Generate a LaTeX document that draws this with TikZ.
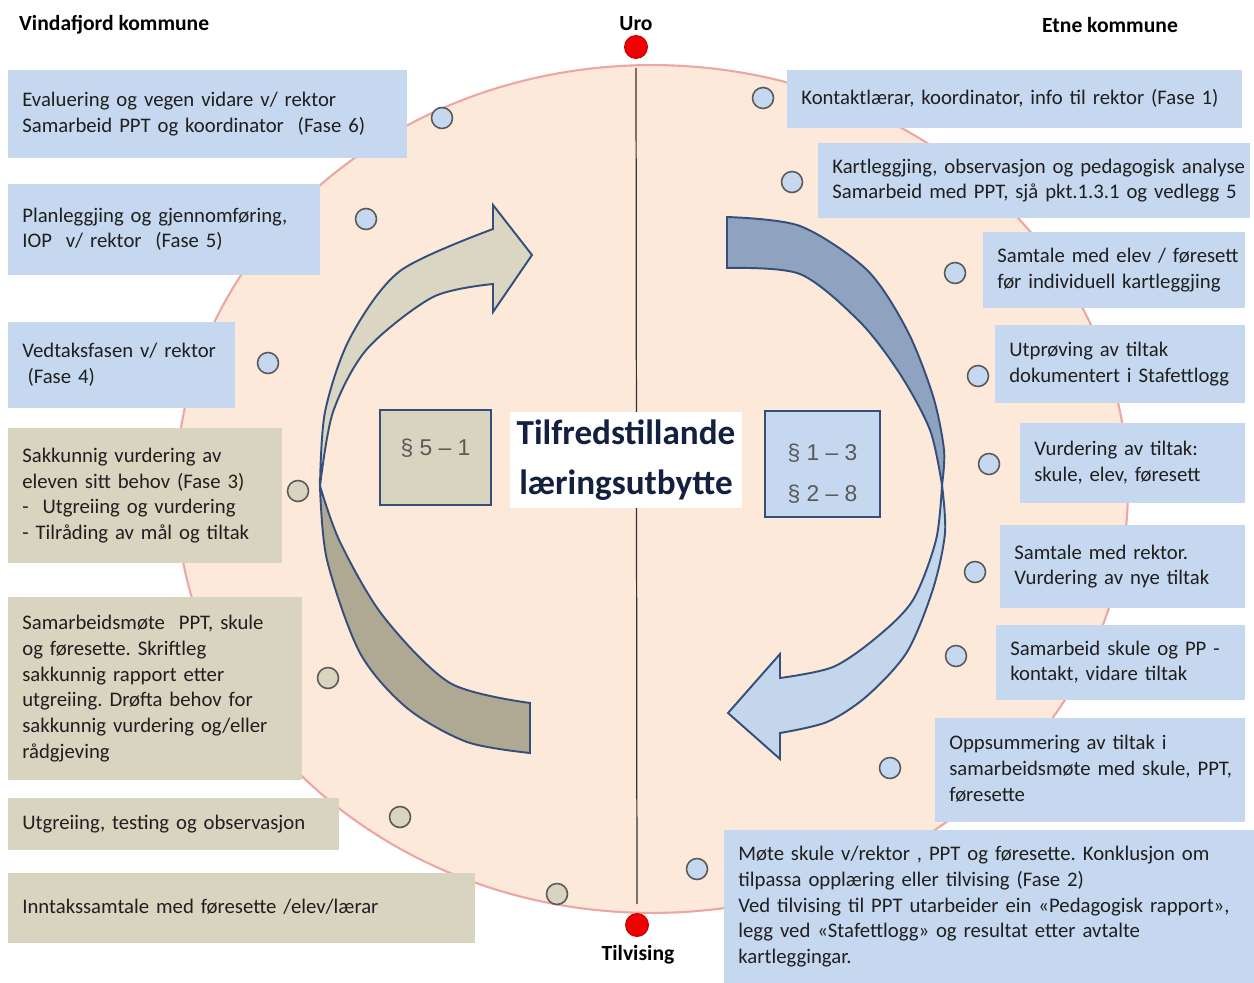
\documentclass[tikz,border=0pt]{standalone}
\usepackage{fontspec}
\setmainfont{Carlito}
\newfontfamily\paragraffont{Liberation Sans}
\usepackage{tikz}
\usetikzlibrary{positioning}
\usetikzlibrary{calc}
\frenchspacing

\definecolor{boksblaa}{HTML}{C6D8EF}
\definecolor{boksbeige}{HTML}{D8D4C0}
\definecolor{sirkelfyll}{HTML}{FDE9DA}
\definecolor{sirkelkant}{HTML}{ECA7A4}
\definecolor{pilkant}{HTML}{34507A}
\definecolor{pilbeige}{HTML}{DAD6C3}
\definecolor{pilbeigemork}{HTML}{AFA994}
\definecolor{pilblaa}{HTML}{C4D6EC}
\definecolor{pilblaamork}{HTML}{8FA3C1}
\definecolor{tekst}{HTML}{1F1F1F}
\definecolor{tittel}{HTML}{13203F}
\definecolor{prikkraud}{HTML}{F00000}

\newcommand{\linjer}[1]{\begin{tabular}{@{}l@{}}#1\end{tabular}}

\begin{document}
\begin{tikzpicture}[x=0.02cm, y=-0.02cm,
    font=\fontsize{11.8}{14.74}\selectfont,
    boks/.style n args={3}{fill=#3, anchor=north west, inner xsep=0.28cm, inner ysep=0pt,
        minimum width=#1*0.02cm, minimum height=#2*0.02cm, text width=#1*0.02cm-0.56cm,
        align=left, text=tekst},
    markor/.style={circle, draw=black!65, line width=0.9pt, minimum size=0.42cm, inner sep=0pt},
    raudprikk/.style={circle, fill=prikkraud, draw=red!75!black, line width=0.5pt, minimum size=0.46cm, inner sep=0pt},
    paragraf/.style={draw=pilkant, line width=1.2pt, inner sep=0pt, align=center, text=black!65,
        font=\paragraffont\fontsize{13}{23.2}\selectfont},
    pil/.style={draw=pilkant, line width=1.1pt},
    overskrift/.style={font=\fontsize{12.3}{14.74}\selectfont\bfseries, text=black}]

    \useasboundingbox (0,0) rectangle (1254,983);
    \fill[white] (0,0) rectangle (1254,983);

    % Sirkelen
    \draw[sirkelkant, fill=sirkelfyll, line width=1.2pt] (652,489) ellipse [x radius=9.52cm, y radius=8.48cm];

    % Uro og tilvising
    \node[raudprikk] (uro) at (636,47) {};
    \node[raudprikk] (tilvising) at (637,925) {};
    \draw[black!80, line width=0.7pt, shorten <=0.18cm, shorten >=0.18cm] (uro) -- (tilvising);
    \node[overskrift] (urotekst) at (636,24) {Uro};
    \node[overskrift] (tilvisingtekst) at (638,955) {Tilvising};
    \node[overskrift, anchor=west] (vindafjord) at (13,25) {Vindafjord kommune};
    \node[overskrift] (etne) at (1110,25) {Etne kommune};

    % Pil til venstre
    \draw[pil, fill=pilbeigemork] plot[smooth] coordinates {(320,486) (327,560) (360,653) (407,708) (467,742) (530,753)}
        -- (530,703) -- plot[smooth] coordinates {(530,703) (450,683) (383,616) (340,542) (320,486)} -- cycle;
    \draw[pil, fill=pilbeige] plot[smooth] coordinates {(320,486) (325,412) (350,338) (400,271) (493,229)}
        -- (493,205) -- (532,255) -- (493,312) -- (493,284)
        -- plot[smooth] coordinates {(493,284) (433,297) (367,349) (333,412) (320,486)} -- cycle;

    % Pil til hogre
    \draw[pil, fill=pilblaamork] plot[smooth] coordinates {(727,217) (800,226) (867,270) (907,330) (933,396) (944,450) (942,485)}
        -- plot[smooth] coordinates {(942,485) (930,430) (900,374) (860,322) (800,274) (727,268)} -- cycle;
    \draw[pil, fill=pilblaa] plot[smooth] coordinates {(942,485) (945,533) (933,589) (907,652) (867,696) (827,722) (780,733)}
        -- (780,759) -- (728,713) -- (780,654) -- (780,678)
        -- plot[smooth] coordinates {(780,678) (833,667) (877,637) (913,600) (936,540) (942,485)} -- cycle;

    % Midten
    \node[paragraf, fill=boksbeige, minimum width=2.22cm, minimum height=1.9cm,
        text height=0.7cm, text depth=0.8cm] (p51) at (435.5,457.5) {§ 5 – 1};
    \node[paragraf, fill=boksblaa, minimum width=2.3cm, minimum height=2.12cm] (p13) at (822.5,464) {\rule{0pt}{0.72cm}§ 1 – 3\\§ 2 – 8};
    \node[fill=white, text=tittel, font=\fontsize{20}{28.4}\selectfont\bfseries, align=center,
        minimum width=4.64cm, minimum height=1.92cm, inner sep=0pt] (maal) at (626,460) {Tilfredstillande\\læringsutbytte};

    % Boksane til venstre
    \node[boks={399}{88}{boksblaa}] (fase6) at (8,70) {\linjer{Evaluering og vegen vidare v/ rektor\\Samarbeid PPT og koordinator~ (Fase 6)}};
    \node[boks={312}{91}{boksblaa}] (fase5) at (8,184) {\linjer{Planleggjing og gjennomføring,\\IOP~ v/ rektor~ (Fase 5)}};
    \node[boks={227}{86}{boksblaa}] (fase4) at (8,322) {\linjer{Vedtaksfasen v/ rektor\\\hspace*{0.25em}(Fase 4)}};
    \node[boks={274}{135}{boksbeige}] (fase3) at (8,428) {\linjer{Sakkunnig vurdering av\\eleven sitt behov (Fase 3)\\-~ Utgreiing og vurdering\\- Tilråding av mål og tiltak}};
    \node[boks={294}{183}{boksbeige}] (samarbeid) at (8,597) {\linjer{Samarbeidsmøte~ PPT, skule\\og føresette. Skriftleg\\sakkunnig rapport etter\\utgreiing. Drøfta behov for\\sakkunnig vurdering og/eller\\rådgjeving}};
    \node[boks={331}{52}{boksbeige}] (utgreiing) at (8,798) {\linjer{Utgreiing, testing og observasjon}};
    \node[boks={467}{70}{boksbeige}] (inntak) at (8,873) {\linjer{Inntakssamtale med føresette /elev/lærar}};

    % Boksane til hogre
    \node[boks={455}{58}{boksblaa}] (fase1) at (787,70) {\linjer{Kontaktlærar, koordinator, info til rektor (Fase 1)}};
    \node[boks={432}{75}{boksblaa}] (kartlegging) at (818,143) {\linjer{Kartleggjing, observasjon og pedagogisk analyse\\Samarbeid med PPT, sjå pkt.1.3.1 og vedlegg 5}};
    \node[boks={262}{76}{boksblaa}] (samtale) at (983,232) {\linjer{Samtale med elev / føresett\\før individuell kartleggjing}};
    \node[boks={250}{78}{boksblaa}] (utproving) at (995,325) {\linjer{Utprøving av tiltak\\dokumentert i Stafettlogg}};
    \node[boks={225}{80}{boksblaa}] (vurdering) at (1020,423) {\linjer{Vurdering av tiltak:\\skule, elev, føresett}};
    \node[boks={245}{83}{boksblaa}] (rektor) at (1000,525) {\linjer{Samtale med rektor.\\Vurdering av nye tiltak}};
    \node[boks={249}{75}{boksblaa}] (ppkontakt) at (996,625) {\linjer{Samarbeid skule og PP -\\kontakt, vidare tiltak}};
    \node[boks={310}{104}{boksblaa}] (oppsummering) at (935,718) {\linjer{Oppsummering av tiltak i\\samarbeidsmøte med skule, PPT,\\føresette}};
    \node[boks={530}{153}{boksblaa}] (fase2) at (724,830) {\linjer{Møte skule v/rektor , PPT og føresette. Konklusjon om\\tilpassa opplæring eller tilvising (Fase 2)\\Ved tilvising til PPT utarbeider ein «Pedagogisk rapport»,\\legg ved «Stafettlogg» og resultat etter avtalte\\kartleggingar.}};

    % Markørar
    \foreach \pos/\name/\cor in {{(442,118)/m6/boksblaa}, {(366,219)/m5/boksblaa}, {(268,363)/m4/boksblaa},
                                 {(298,491)/m3/boksbeige}, {(328,678)/msam/boksbeige}, {(400,817)/mutg/boksbeige},
                                 {(557,894)/minn/boksbeige}, {(763,98)/m1/boksblaa}, {(792,182)/mkart/boksblaa},
                                 {(955,273)/msamt/boksblaa}, {(978,376)/mutp/boksblaa}, {(989,464)/mvur/boksblaa},
                                 {(975,572)/mrek/boksblaa}, {(956,656)/mpp/boksblaa}, {(890,768)/mopp/boksblaa},
                                 {(697,869)/m2/boksblaa}}
        \node[markor, fill=\cor] (\name) at \pos {};

\end{tikzpicture}
\end{document}
